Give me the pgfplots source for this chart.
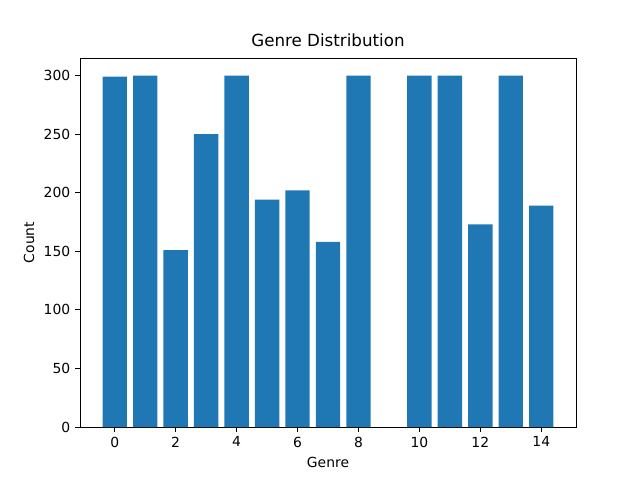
\documentclass[border=0pt]{standalone}
\usepackage{pgfplots}
\pgfplotsset{compat=1.18}
\usepackage{fontspec}
\setmainfont{DejaVu Sans}
\begin{document}
\fontsize{13.9}{16}\selectfont
\begin{tikzpicture}[x=1pt,y=1pt]
\path (0,0) rectangle (640,480);
\begin{axis}[at={(80pt,53pt)},anchor=south west,scale only axis,width=496pt,height=369pt,
 xmin=-1.14,xmax=15.14,ymin=0,ymax=315,
 xtick={0,2,...,14},ytick={0,50,...,300},
 tick align=outside,tick style={black,line width=0.8pt},major tick length=4.9pt,
 title={\fontsize{16.7}{18}\selectfont Genre Distribution},
 xlabel={Genre},ylabel={Count},
 /pgf/number format/assume math mode=true,
 tick label style={font=\fontsize{13.9}{16}\selectfont},
 label style={font=\fontsize{13.9}{16}\selectfont},
 axis line style={line width=0.8pt},
 xtick pos=bottom,ytick pos=left]
\addplot[ybar,bar width=0.8,fill={rgb,255:red,31;green,119;blue,180},draw=none] coordinates {
(0,299)(1,300)(2,151)(3,250)(4,300)(5,194)(6,202)(7,158)(8,300)(10,300)(11,300)(12,173)(13,300)(14,189)};
\end{axis}
\end{tikzpicture}
\end{document}
